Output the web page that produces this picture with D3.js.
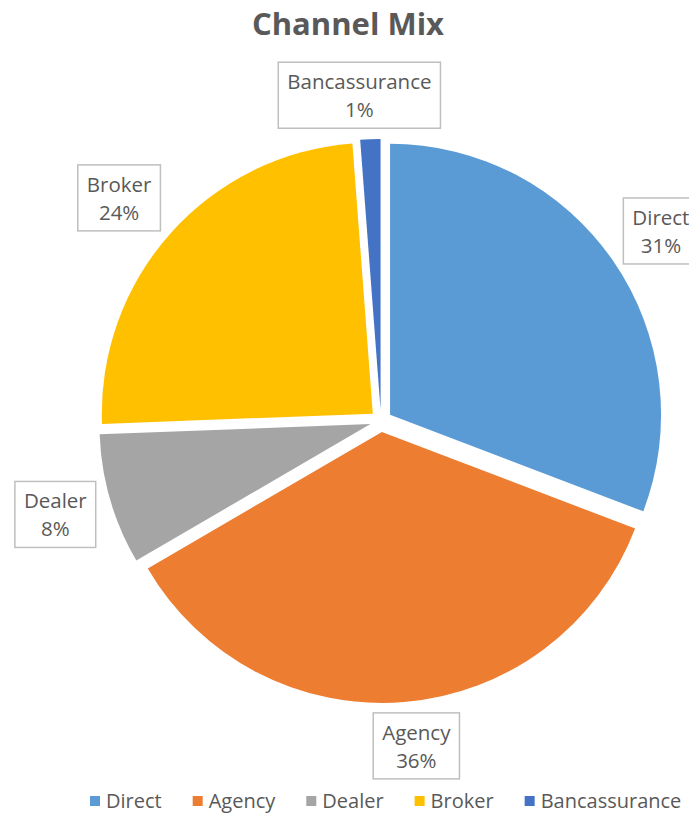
<!DOCTYPE html>
<html>
<head>
<meta charset="utf-8">
<script src="https://cdn.jsdelivr.net/npm/d3@7"></script>
<style>
  body { margin: 0; background: #fff; }
  text { font-family: "Open Sans", sans-serif; fill: #595959; }
</style>
</head>
<body>
<div class="canvas"></div>
<script>
const channels = ['Direct', 'Agency', 'Dealer', 'Broker', 'Bancassurance'];
const shares = [30.8, 35.8, 7.8, 24.4, 1.2];
const colours = ['#5B9BD5', '#ED7D31', '#A5A5A5', '#FFC000', '#4472C4'];

const width = 689, height = 813;
const cx = 381, cy = 421;
const radius = 271, explode = 11, labelRadius = 335;

// small hand nudges so the data labels sit where Excel put them
const labelNudge = {
    Direct: [4, 0],
    Agency: [8, -9],
    Dealer: [-4, 0],
    Broker: [-12, 0],
    Bancassurance: [-9, 9]
};

const svg = d3.select('.canvas')
    .append('svg')
    .attr('width', width)
    .attr('height', height);

svg.append('text')
    .attr('x', 348)
    .attr('y', 35)
    .attr('text-anchor', 'middle')
    .attr('font-size', 31)
    .attr('font-weight', 'bold')
    .text('Channel Mix');

const data = channels.map((c, i) => ({name: c, value: shares[i], colour: colours[i]}));
const total = d3.sum(shares);

const pie = d3.pie().sort(null).value(d => d.value);
const arc = d3.arc().innerRadius(0).outerRadius(radius);
const labelArc = d3.arc().innerRadius(labelRadius).outerRadius(labelRadius);

const graph = svg.append('g')
    .attr('transform', `translate(${cx}, ${cy})`);

const arcs = pie(data);

// exploded slices
graph.selectAll('path')
    .data(arcs)
    .enter()
    .append('path')
    .attr('d', arc)
    .attr('fill', d => d.data.colour)
    .attr('transform', d => {
        const mid = (d.startAngle + d.endAngle) / 2;
        return `translate(${Math.sin(mid) * explode}, ${-Math.cos(mid) * explode})`;
    });

const fmt = d3.format('.0%');

const labels = graph.selectAll('g.lbl')
    .data(arcs)
    .enter()
    .append('g')
    .attr('class', 'lbl')
    .attr('transform', d => {
        const [x, y] = labelArc.centroid(d);
        const n = labelNudge[d.data.name];
        return `translate(${x + n[0]}, ${y + n[1]})`;
    });

labels.each(function(d) {
    const g = d3.select(this);
    const box = g.append('rect');
    const t1 = g.append('text')
        .attr('text-anchor', 'middle')
        .attr('font-size', 20.5)
        .attr('y', -6)
        .text(d.data.name);
    const t2 = g.append('text')
        .attr('text-anchor', 'middle')
        .attr('font-size', 20.5)
        .attr('y', 22)
        .text(fmt(d.data.value / total));
    const w = Math.max(t1.node().getComputedTextLength(), t2.node().getComputedTextLength()) + 18;
    box.attr('x', -w / 2)
        .attr('y', -33)
        .attr('width', w)
        .attr('height', 66)
        .attr('fill', '#fff')
        .attr('stroke', '#bfbfbf')
        .attr('stroke-width', 1.5);
});

// legend
const legend = svg.append('g');
let lx = 90;
data.forEach(d => {
    const item = legend.append('g').attr('transform', `translate(${lx}, 801)`);
    item.append('rect')
        .attr('x', 0)
        .attr('y', -5)
        .attr('width', 10)
        .attr('height', 10)
        .attr('fill', d.colour);
    const t = item.append('text')
        .attr('x', 16)
        .attr('y', 7)
        .attr('font-size', 20)
        .text(d.name);
    lx += 16 + t.node().getComputedTextLength() + 31;
});
</script>
</body>
</html>
